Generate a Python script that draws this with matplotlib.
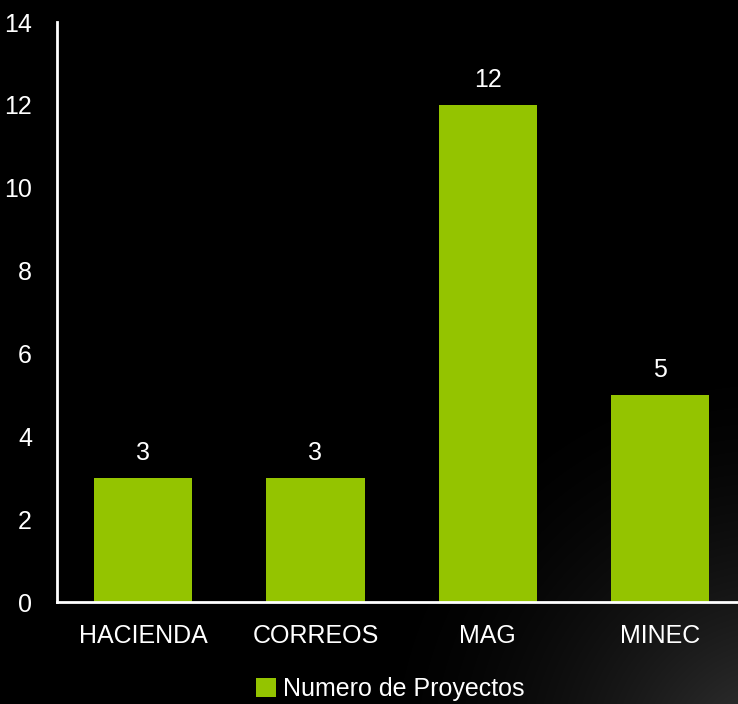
import numpy as np
import matplotlib
matplotlib.use("Agg")
import matplotlib.pyplot as plt
from matplotlib import font_manager

categorias = ["HACIENDA", "CORREOS", "MAG", "MINEC"]
proyectos = [3, 3, 12, 5]
serie = "Numero de Proyectos"

fams = [f.name for f in font_manager.fontManager.ttflist]
fuente = "Liberation Sans Narrow" if "Liberation Sans Narrow" in fams else "Liberation Sans"
plt.rcParams["font.family"] = [fuente, "DejaVu Sans"]

verde = "#94C400"

fig = plt.figure(figsize=(7.38, 7.04), dpi=100)
fig.patch.set_facecolor("black")

# fondo con un brillo gris abajo a la derecha
bg = fig.add_axes([0, 0, 1, 1], zorder=-10)
yy, xx = np.mgrid[0:704, 0:738]
d = np.hypot(xx - 770, yy - 760) / 420.0
g = np.clip(1 - d, 0, 1) ** 1.8 * 0.22
img = np.dstack([g, g, g])
bg.imshow(img, extent=[0, 1, 0, 1], aspect="auto", origin="upper")
bg.axis("off")

W, H = 738, 704
left, bottom, top = 57, 602, 22
right = 57 + 4 * 172.3
ax = fig.add_axes([left / W, (H - bottom) / H, (right - left) / W, (bottom - top) / H])
ax.patch.set_alpha(0)

x = np.arange(len(categorias))
bars = ax.bar(x, proyectos, width=0.57, color=verde, label=serie)
for xi, v in zip(x, proyectos):
    ax.text(xi, v + 0.3, str(v), ha="center", va="bottom", color="white", fontsize=18)

ax.set_xlim(-0.5, 3.5)
ax.set_ylim(0, 14)
ax.set_yticks(range(0, 15, 2))
ax.set_xticks(x)
ax.set_xticklabels(categorias)
ax.tick_params(colors="white", labelsize=18, length=0)
ax.tick_params(axis="y", pad=18)
ax.tick_params(axis="x", pad=16)
for s in ["top", "right"]:
    ax.spines[s].set_visible(False)
for s in ["left", "bottom"]:
    ax.spines[s].set_color("white")
    ax.spines[s].set_linewidth(2)

leg = fig.legend(handles=[bars], labels=[serie], loc="center", bbox_to_anchor=(390 / W, 1 - 689 / H),
                 frameon=False, fontsize=18, handlelength=0.8, handleheight=0.8, handletextpad=0.3,
                 labelcolor="white")

fig.savefig("out.png", dpi=100, facecolor="black")
